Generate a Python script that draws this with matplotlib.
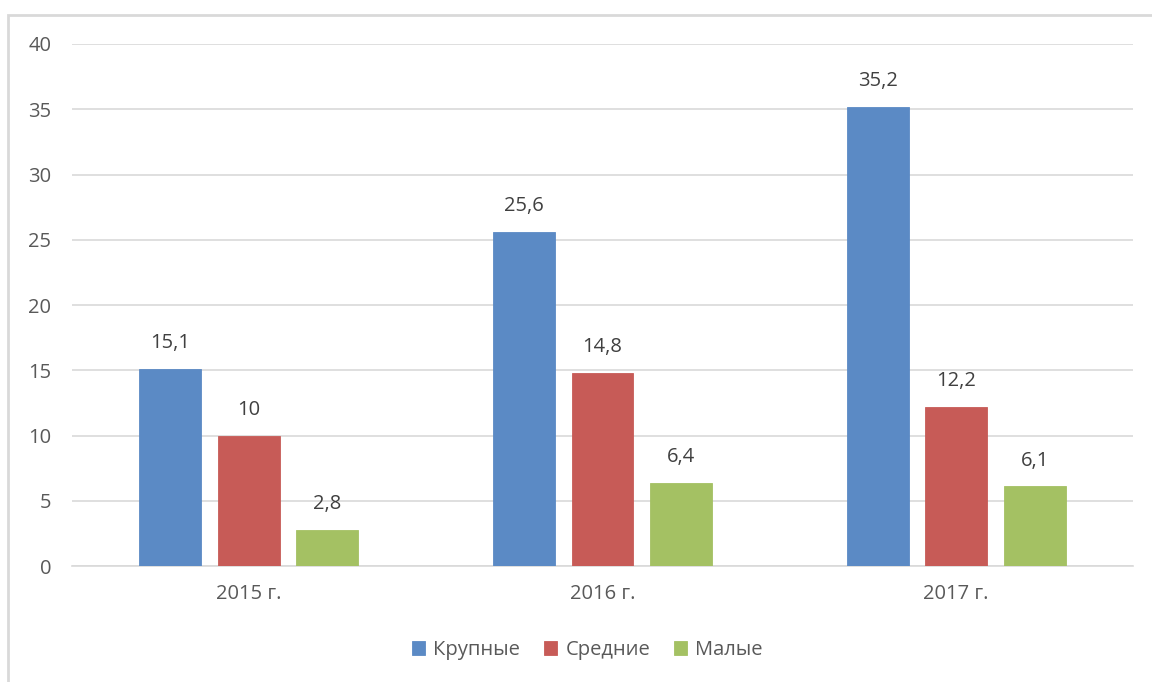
import matplotlib.pyplot as plt
import numpy as np
from matplotlib.patches import Rectangle

plt.rcParams["font.family"] = ["Open Sans", "DejaVu Sans"]

years = ["2015 г.", "2016 г.", "2017 г."]
series_names = ["Крупные", "Средние", "Малые"]
large = [15.1, 25.6, 35.2]
medium = [10, 14.8, 12.2]
small = [2.8, 6.4, 6.1]

colors = ["#5B8AC5", "#C75B57", "#A4C163"]
text_color = "#595959"


def fmt(v: float) -> str:
    s = f"{v:g}"
    return s.replace(".", ",")


fig = plt.figure(figsize=(11.52, 6.82), dpi=100)
ax = fig.add_axes([0.0625, 0.170, 0.921, 0.7655])

x = np.arange(len(years))
width = 0.175
offsets = [-0.222, 0.0, 0.222]

for values, name, color, off in zip([large, medium, small], series_names, colors, offsets):
    bars = ax.bar(x + off, values, width, color=color, label=name,
                  edgecolor=color, linewidth=0.6, zorder=3)
    for b, v in zip(bars, values):
        ax.text(b.get_x() + b.get_width() / 2, v + 1.2, fmt(v),
                ha="center", va="bottom", fontsize=14.5, color="#404040")

ax.set_xlim(-0.5, 2.5)
ax.set_ylim(0, 40)
ax.set_yticks(range(0, 41, 5))
ax.set_xticks(x)
ax.set_xticklabels(years)
ax.grid(axis="y", color="#D9D9D9", linewidth=1.2, zorder=0)
for side in ["top", "right", "left"]:
    ax.spines[side].set_visible(False)
ax.spines["bottom"].set_color("#D9D9D9")
ax.spines["bottom"].set_linewidth(1.2)
ax.tick_params(axis="both", length=0, labelsize=14.5, colors=text_color)
ax.tick_params(axis="x", pad=13)
ax.tick_params(axis="y", pad=15)

leg = fig.legend(loc="center", bbox_to_anchor=(0.510, 0.047), ncol=3, frameon=False,
                 fontsize=14.5, handlelength=0.65, handleheight=0.65,
                 handletextpad=0.4, columnspacing=1.2)
for t in leg.get_texts():
    t.set_color(text_color)

# chart area border
fig.patches.append(Rectangle((8 / 1152, -0.05), 1.2, 1 - 15 / 682 + 0.05,
                             transform=fig.transFigure, fill=False,
                             edgecolor="#D9D9D9", linewidth=2, zorder=0))

fig.savefig("out.png", dpi=100)
